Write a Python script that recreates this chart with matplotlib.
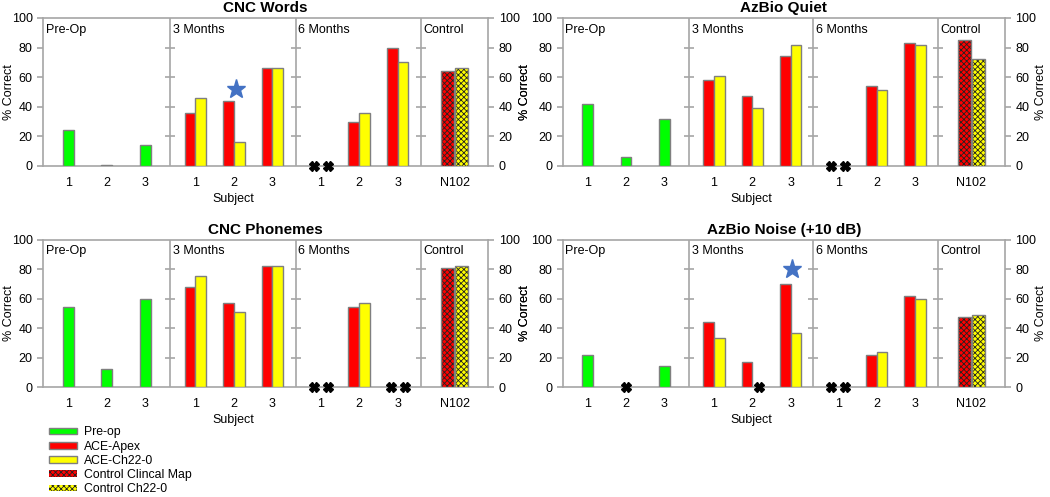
import numpy as np
import matplotlib.pyplot as plt
from matplotlib.patches import Patch

plt.rcParams['font.family'] = ['Liberation Sans', 'DejaVu Sans']
plt.rcParams['hatch.linewidth'] = 0.6

nan = np.nan
subjects = ['1', '2', '3']
sections = ['Pre-Op', '3 Months', '6 Months', 'Control']
control_label = 'N102'

# CNC Words
cw_pre = [24, 1, 14]
cw_3m_apex = [36, 44, 66]
cw_3m_ch22 = [46, 16, 66]
cw_6m_apex = [nan, 30, 80]
cw_6m_ch22 = [nan, 36, 70]
cw_ctrl = [64, 66]

# AzBio Quiet
aq_pre = [42, 6, 32]
aq_3m_apex = [58, 47, 74]
aq_3m_ch22 = [61, 39, 82]
aq_6m_apex = [nan, 54, 83]
aq_6m_ch22 = [nan, 51, 82]
aq_ctrl = [85, 72]

# CNC Phonemes
cp_pre = [54, 12, 60]
cp_3m_apex = [68, 57, 82]
cp_3m_ch22 = [75, 51, 82]
cp_6m_apex = [nan, 54, nan]
cp_6m_ch22 = [nan, 57, nan]
cp_ctrl = [81, 82]

# AzBio Noise (+10 dB)
an_pre = [22, nan, 14]
an_3m_apex = [44, 17, 70]
an_3m_ch22 = [33, nan, 37]
an_6m_apex = [nan, 22, 62]
an_6m_ch22 = [nan, 24, 60]
an_ctrl = [47.5, 49]

panels = [
    ('CNC Words', cw_pre, cw_3m_apex, cw_3m_ch22, cw_6m_apex, cw_6m_ch22, cw_ctrl, (1, 1, 52)),
    ('AzBio Quiet', aq_pre, aq_3m_apex, aq_3m_ch22, aq_6m_apex, aq_6m_ch22, aq_ctrl, None),
    ('CNC Phonemes', cp_pre, cp_3m_apex, cp_3m_ch22, cp_6m_apex, cp_6m_ch22, cp_ctrl, None),
    ('AzBio Noise (+10 dB)', an_pre, an_3m_apex, an_3m_ch22, an_6m_apex, an_6m_ch22, an_ctrl, (1, 2, 80)),
]

GREEN = '#00FF00'
RED = '#FF0000'
YELLOW = '#FFFF00'
EDGE = '#7f7f7f'
AX = '#a6a6a6'

bounds = [0, 3.3, 6.55, 9.8, 11.55]
off = 0.65
bw = 0.28
cw = 0.34

positions = [[0.041, 0.666, 0.424, 0.298], [0.536, 0.666, 0.421, 0.298],
             [0.041, 0.221, 0.424, 0.297], [0.536, 0.221, 0.421, 0.297]]
# x (figure px) of the centre of the left / right "% Correct" labels
label_px = [(9, 525), (525, 1041), (9, 525), (525, 1041)]

fig = plt.figure(figsize=(10.5, 4.97), dpi=100)

for pos, lp, (title, pre, a3, c3, a6, c6, ctrl, star) in zip(positions, label_px, panels):
    ax = fig.add_axes(pos)
    x_pre = bounds[0] + off + np.arange(3)
    x_3m = bounds[1] + off + np.arange(3)
    x_6m = bounds[2] + off + np.arange(3)
    x_ctrl = (bounds[3] + bounds[4]) / 2

    def bars(x, vals, color, shift, xshift):
        vals = np.array(vals, dtype=float)
        ok = ~np.isnan(vals)
        ax.bar(x[ok] + shift, vals[ok], bw, color=color, edgecolor=EDGE, linewidth=1, zorder=3)
        ax.plot(x[~ok] + xshift, np.zeros((~ok).sum()), 'X', color='black', ms=7,
                mec='black', clip_on=False, zorder=5)

    bars(x_pre, pre, GREEN, 0, 0)
    bars(x_3m, a3, RED, -bw / 2, -0.18)
    bars(x_3m, c3, YELLOW, bw / 2, 0.18)
    bars(x_6m, a6, RED, -bw / 2, -0.18)
    bars(x_6m, c6, YELLOW, bw / 2, 0.18)

    for v, col, s in [(ctrl[0], RED, -cw / 2 - 0.02), (ctrl[1], YELLOW, cw / 2 + 0.02)]:
        ax.bar(x_ctrl + s, v, cw, color=col, hatch='xxxxxx', edgecolor='#222222', linewidth=0, zorder=3)
        ax.bar(x_ctrl + s, v, cw, fill=False, edgecolor=EDGE, linewidth=1, zorder=4)

    if star is not None:
        sec, idx, yv = star
        xs = [x_pre, x_3m, x_6m][sec][idx]
        ax.plot(xs + 0.05, yv, '*', color='#4472C4', ms=14, zorder=6)

    for b in bounds[1:4]:
        ax.axvline(b, color=AX, lw=1.2, zorder=2)
        ax.plot([b] * 4, [20, 40, 60, 80], '_', color=AX, ms=7, mew=1.2, zorder=2)
    for b, name in zip(bounds[:4], sections):
        ax.text(b + 0.07, 96, name, fontsize=9, ha='left', va='top')

    ax.set_xlim(bounds[0], bounds[4])
    ax.set_ylim(0, 100)
    ax.set_yticks(range(0, 101, 20))
    ax.set_xticks(list(x_pre) + list(x_3m) + list(x_6m) + [x_ctrl])
    ax.set_xticklabels(subjects * 3 + [control_label])
    ax.tick_params(axis='x', length=0, pad=8, labelsize=9)
    ax.tick_params(axis='y', length=4, width=1.2, color=AX, labelsize=9, direction='out')
    for s in ax.spines.values():
        s.set_color(AX)
        s.set_linewidth(1.2)
    ax.text((bounds[1] + bounds[2]) / 2, -18, 'Subject', fontsize=9, ha='center', va='top')
    ax.set_title(title, fontsize=11, fontweight='bold', pad=4)

    ax2 = ax.twinx()
    ax2.set_ylim(0, 100)
    ax2.set_yticks(range(0, 101, 20))
    ax2.tick_params(axis='y', length=4, width=1.2, color=AX, labelsize=9, direction='out')
    for s in ax2.spines.values():
        s.set_visible(False)

    ax_px0 = pos[0] * 1050
    ax_w = pos[2] * 1050
    ax.set_ylabel('% Correct', fontsize=9, va='center', rotation=90)
    ax.yaxis.set_label_coords((lp[0] - ax_px0) / ax_w, 0.5)
    ax2.set_ylabel('% Correct', fontsize=9, va='center', rotation=90)
    ax2.yaxis.set_label_coords((lp[1] - ax_px0) / ax_w, 0.5)

handles = [
    Patch(facecolor=GREEN, edgecolor=EDGE, label='Pre-op'),
    Patch(facecolor=RED, edgecolor=EDGE, label='ACE-Apex'),
    Patch(facecolor=YELLOW, edgecolor=EDGE, label='ACE-Ch22-0'),
    Patch(facecolor=RED, edgecolor='#222222', hatch='xxxxxx', lw=0, label='Control Clincal Map'),
    Patch(facecolor=YELLOW, edgecolor='#222222', hatch='xxxxxx', lw=0, label='Control Ch22-0'),
]
fig.legend(handles=handles, loc='upper left', bbox_to_anchor=(0.047, 0.142), frameon=False,
           fontsize=8.8, handlelength=2.3, handleheight=0.45, labelspacing=0.18, handletextpad=0.5,
           borderaxespad=0, borderpad=0)

fig.savefig('out.png', dpi=100)
